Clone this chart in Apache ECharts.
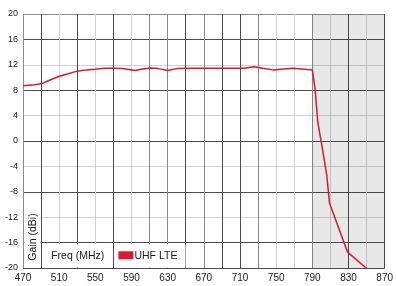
<!DOCTYPE html>
<html>
<head>
<meta charset="utf-8">
<script src="https://cdn.jsdelivr.net/npm/echarts@6/dist/echarts.min.js"></script>
<style>html,body{margin:0;padding:0;background:#fff;}#c{width:396px;height:286px;}</style>
</head>
<body>
<div id="c"></div>
<script>
// ---- data ----
var freqs = [470, 480, 490, 500, 510, 520, 530, 540, 550, 560, 570, 580, 594, 602, 611, 620, 630, 640, 660, 680, 700, 715, 725, 735, 747, 758, 769, 778, 785, 790, 793, 796, 801, 806, 809, 829, 852];
var gains = [8.7, 8.8, 9.0, 9.6, 10.2, 10.6, 11.0, 11.2, 11.3, 11.45, 11.45, 11.4, 11.1, 11.35, 11.5, 11.4, 11.1, 11.4, 11.45, 11.45, 11.45, 11.45, 11.7, 11.45, 11.2, 11.35, 11.45, 11.35, 11.25, 11.2, 8.3, 3.0, -1.1, -5.4, -9.8, -17.5, -20.3];
var xTicks = [470, 510, 550, 590, 630, 670, 710, 750, 790, 830, 870];
var yTicks = [-20, -16, -12, -8, -4, 0, 4, 8, 12, 16, 20];
var shadeRange = [790, 870];
var seriesName = 'UHF LTE';
var xTitle = 'Freq (MHz)';
var yTitle = 'Gain (dBi)';

var D = '#4d4d4d', M = '#8c8c8c', L = '#d2d2d2';
var xLineColors = [M, D, L, D, L, D, L, M, M, D, M, D, D, M, L, L, M, L, D, L, D];
var yLineColors = [D, D, L, D, L, D, L, D, L, D, M];

var chart = echarts.init(document.getElementById('c'), null, {renderer: 'canvas'});
var pts = freqs.map(function (f, i) { return [f, gains[i]]; });
var font = '"Liberation Sans", Arial, sans-serif';

chart.setOption({
  animation: false,
  backgroundColor: '#fff',
  grid: {left: 23, right: 5, top: 14, bottom: 18, containLabel: false},
  xAxis: {
    type: 'value', min: xTicks[0], max: xTicks[xTicks.length - 1], interval: 20,
    axisLine: {show: false}, axisTick: {show: false},
    axisLabel: {
      margin: 5, fontSize: 10, color: '#1a1a1a', fontFamily: font,
      formatter: function (v) { return xTicks.indexOf(v) >= 0 ? String(v) : ''; }
    },
    splitLine: {show: true, lineStyle: {color: xLineColors, width: 1}}
  },
  yAxis: {
    type: 'value', min: yTicks[0], max: yTicks[yTicks.length - 1], interval: 4,
    axisLine: {show: false}, axisTick: {show: false},
    axisLabel: {margin: 5, fontSize: 9, color: '#1a1a1a', fontFamily: font},
    splitLine: {show: true, lineStyle: {color: yLineColors, width: 1}}
  },
  series: [{
    name: seriesName, type: 'line', data: pts, showSymbol: false, clip: true,
    lineStyle: {color: '#d8192f', width: 1.5},
    markArea: {
      silent: true,
      itemStyle: {color: 'rgba(0,0,0,0.09)'},
      data: [[{xAxis: shadeRange[0]}, {xAxis: shadeRange[1]}]]
    }
  }]
});

function px(x, y) { return chart.convertToPixel({gridIndex: 0}, [x, y]); }
var a = px(470, -8), b = px(490, -20), c = px(490, -16), d = px(570, -20), e = px(650, -20);
function r(v) { return Math.round(v) + 0.5; }
chart.setOption({
  graphic: [
    {type: 'rect', z: 50, shape: {x: r(a[0]) + 1, y: r(a[1]) + 1, width: r(b[0]) - r(a[0]) - 2, height: r(b[1]) - r(a[1]) - 2}, style: {fill: '#fff'}},
    {type: 'rect', z: 50, shape: {x: r(c[0]) + 1, y: r(c[1]) + 1, width: r(d[0]) - r(c[0]) - 2, height: r(d[1]) - r(c[1]) - 2}, style: {fill: '#fff'}},
    {type: 'rect', z: 50, shape: {x: r(d[0]) + 1, y: r(c[1]) + 1, width: r(e[0]) - r(d[0]) - 2, height: r(d[1]) - r(c[1]) - 2}, style: {fill: '#fff'}},
    {type: 'text', z: 51, x: (a[0] + b[0]) / 2 + 1, y: 237, rotation: Math.PI / 2,
      style: {text: yTitle, fontSize: 10.5, fontFamily: font, fill: '#1a1a1a', align: 'center', verticalAlign: 'middle'}},
    {type: 'text', z: 51, x: (c[0] + d[0]) / 2 + 0.5, y: (c[1] + d[1]) / 2 + 0.5,
      style: {text: xTitle, fontSize: 10.5, fontFamily: font, fill: '#1a1a1a', align: 'center', verticalAlign: 'middle'}},
    {type: 'rect', z: 51, shape: {x: d[0] + 5, y: (c[1] + d[1]) / 2 - 4, width: 15, height: 8}, style: {fill: '#d8192f'}},
    {type: 'text', z: 51, x: d[0] + 21, y: (c[1] + d[1]) / 2 + 0.5,
      style: {text: seriesName, fontSize: 10.5, fontFamily: font, fill: '#1a1a1a', align: 'left', verticalAlign: 'middle'}}
  ]
});
</script>
</body>
</html>
